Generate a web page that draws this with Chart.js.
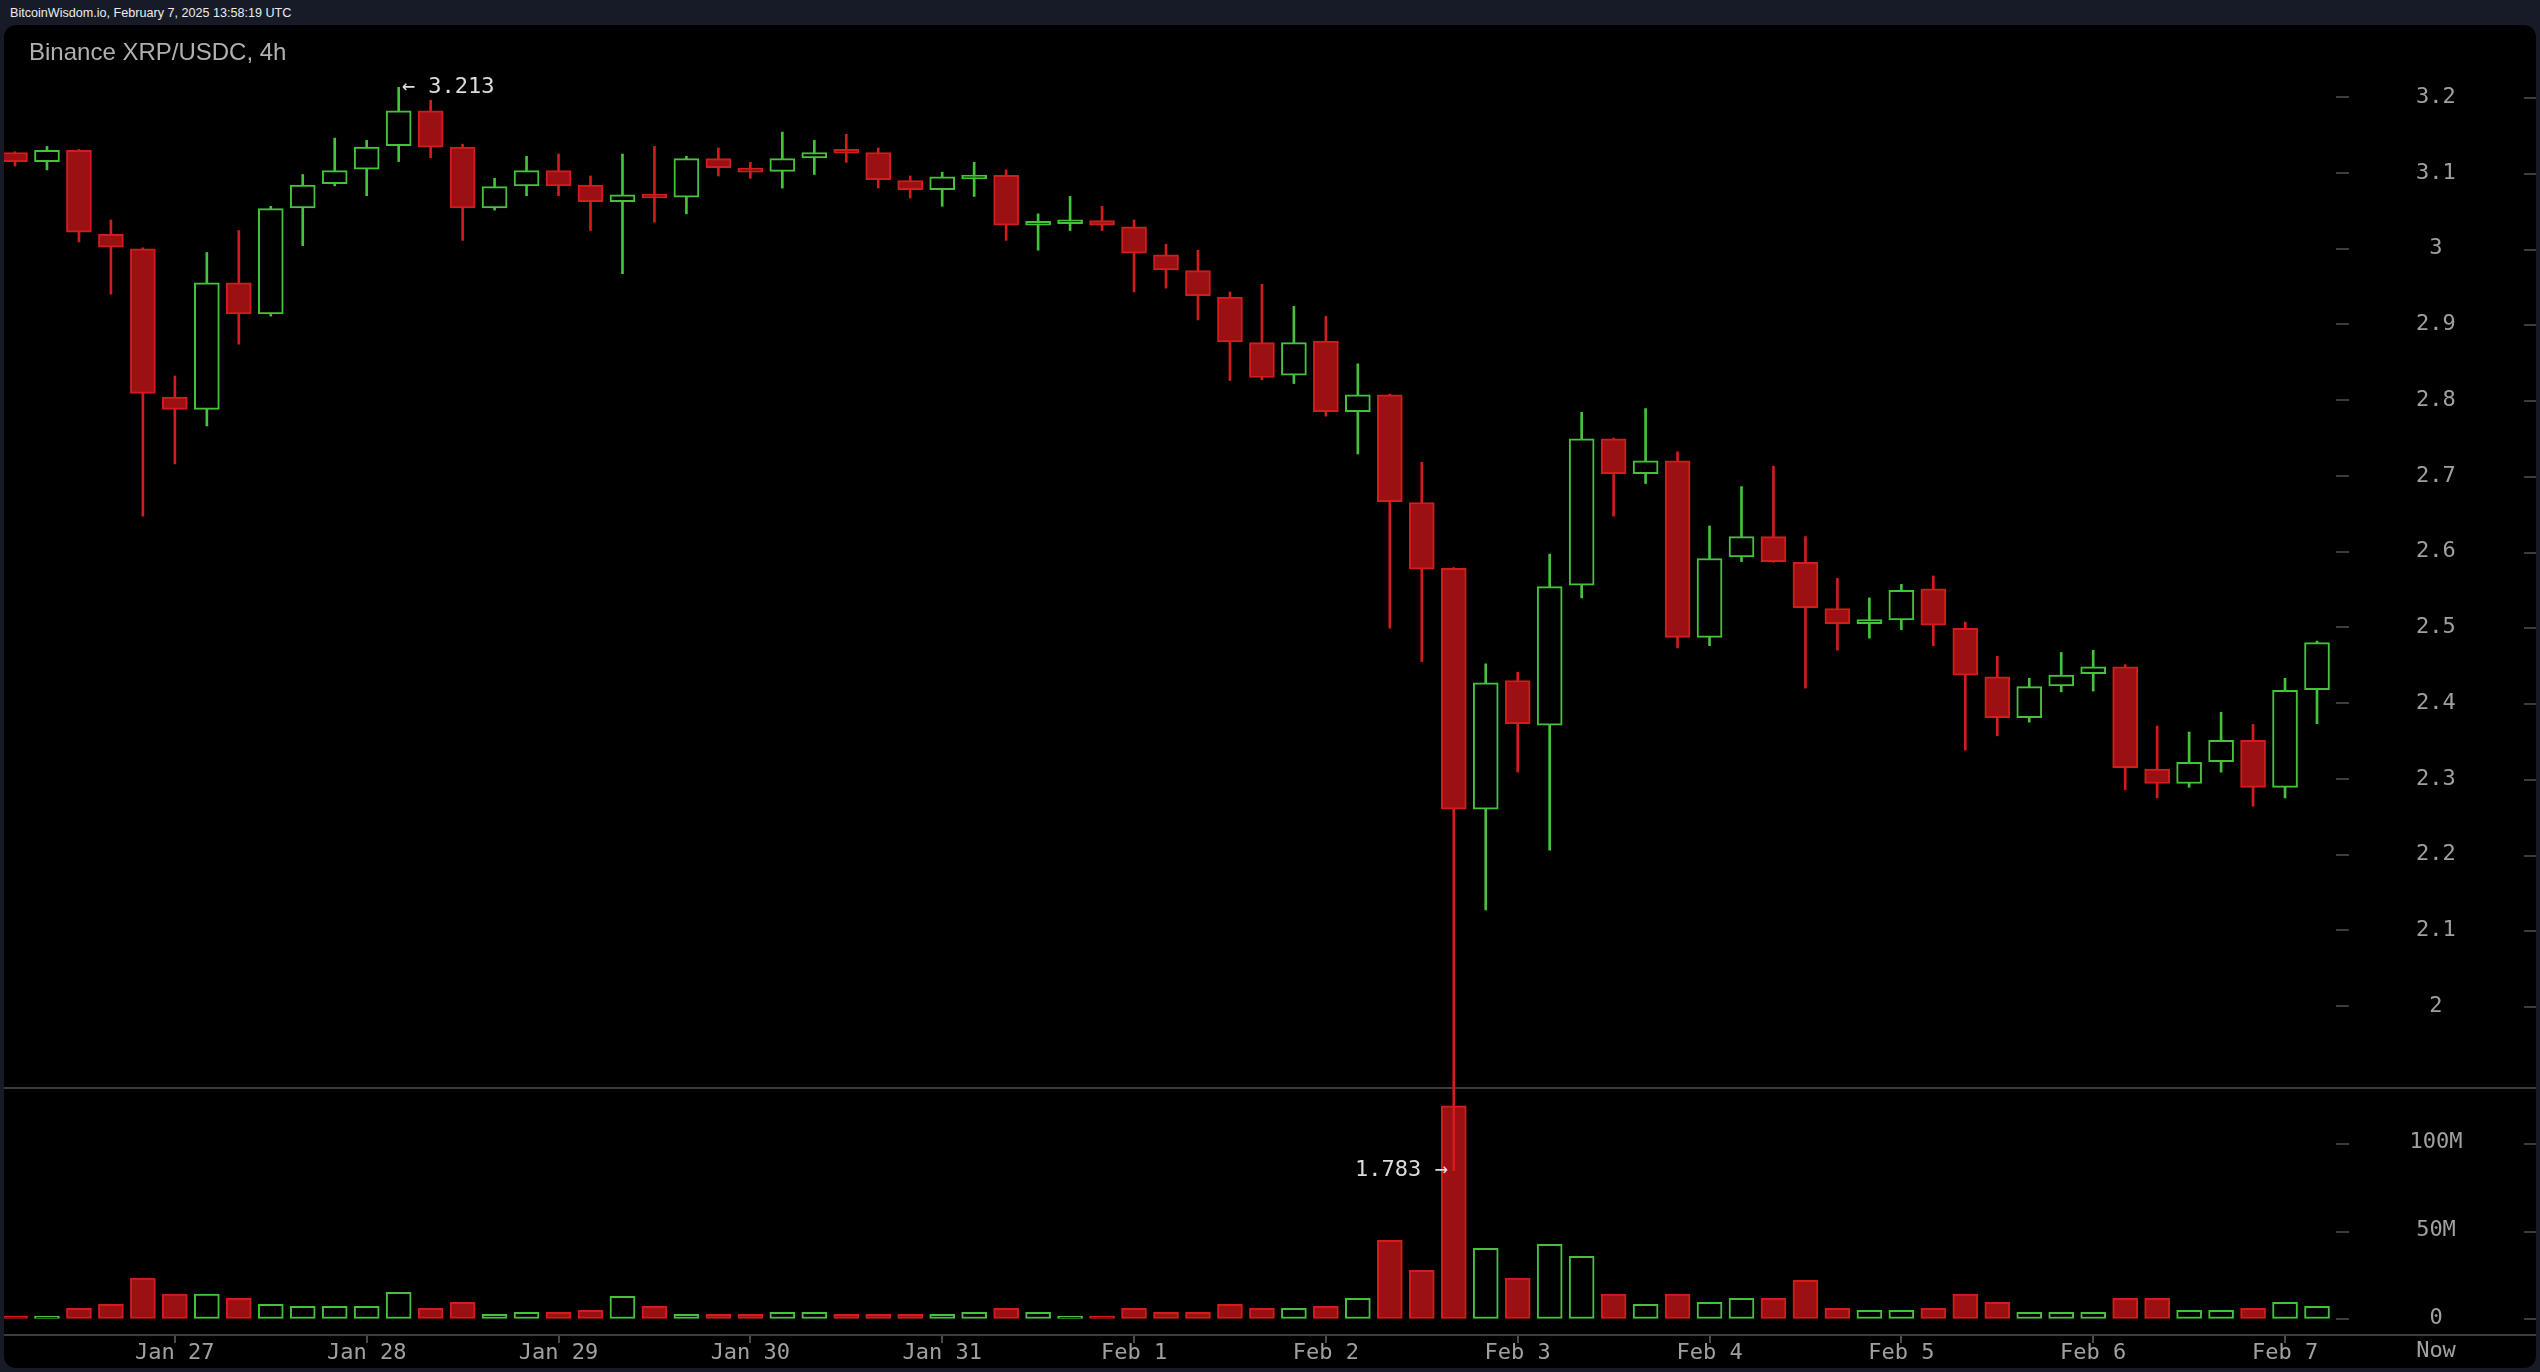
<!DOCTYPE html>
<html>
<head>
<meta charset="utf-8">
<title>Binance XRP/USDC, 4h</title>
<script src="https://cdn.jsdelivr.net/npm/chart.js@4.4.1/dist/chart.umd.min.js"></script>
<style>
  html, body { margin: 0; padding: 0; background: #161b27; }
  #wrap { position: relative; width: 2540px; height: 1372px; overflow: hidden; }
  #panel { position: absolute; left: 4px; top: 25px; width: 2532px; height: 1343px; background: #000; border-radius: 12px; }
  #stamp { position: absolute; left: 10px; top: 7px; font: 12.6px "Liberation Sans", Arial, sans-serif; line-height: 1; color: #ececec; }
  #title { position: absolute; left: 29px; top: 40px; font: 24px "Liberation Sans", Arial, sans-serif; line-height: 1; color: #b0b0b0; }
  canvas { position: absolute; left: 0; top: 0; }
</style>
</head>
<body>
<div id="wrap">
  <div id="panel"></div>
  <div id="stamp">BitcoinWisdom.io, February 7, 2025 13:58:19 UTC</div>
  <canvas id="chart" width="2540" height="1372"></canvas>
  <div id="title">Binance XRP/USDC, 4h</div>
</div>
<script>
// 4h candles, Jan 26 04:00 .. Feb 7 04:00
const opens = [3.127, 3.115, 3.130, 3.019, 3.000, 2.804, 2.788, 2.955, 2.914, 3.054, 3.086, 3.105, 3.136, 3.182, 3.134, 3.054, 3.083, 3.103, 3.084, 3.062,
  3.069, 3.068, 3.119, 3.106, 3.102, 3.120, 3.127, 3.127, 3.090, 3.078, 3.092, 3.097, 3.031, 3.033, 3.037, 3.029, 2.992, 2.971, 2.936, 2.876,
  2.833, 2.878, 2.785, 2.807, 2.665, 2.578, 2.260, 2.430, 2.371, 2.556, 2.749, 2.703, 2.720, 2.487, 2.593, 2.620, 2.586, 2.525, 2.505, 2.510,
  2.551, 2.499, 2.435, 2.381, 2.423, 2.439, 2.448, 2.313, 2.294, 2.323, 2.351, 2.289, 2.418];
const highs = [3.128, 3.135, 3.131, 3.038, 3.001, 2.832, 2.995, 3.024, 3.056, 3.098, 3.146, 3.143, 3.213, 3.196, 3.138, 3.093, 3.122, 3.125, 3.096, 3.125,
  3.135, 3.122, 3.133, 3.114, 3.154, 3.143, 3.151, 3.133, 3.096, 3.101, 3.114, 3.104, 3.046, 3.069, 3.056, 3.038, 3.006, 2.998, 2.943, 2.953,
  2.924, 2.911, 2.848, 2.808, 2.718, 2.579, 2.452, 2.441, 2.597, 2.784, 2.750, 2.789, 2.732, 2.634, 2.686, 2.713, 2.620, 2.565, 2.539, 2.557,
  2.568, 2.507, 2.462, 2.433, 2.467, 2.470, 2.451, 2.370, 2.362, 2.388, 2.372, 2.433, 2.482];
const lows = [3.109, 3.104, 3.009, 2.940, 2.647, 2.716, 2.766, 2.874, 2.911, 3.004, 3.083, 3.070, 3.115, 3.120, 3.011, 3.051, 3.070, 3.070, 3.024, 2.967,
  3.035, 3.046, 3.096, 3.093, 3.080, 3.098, 3.114, 3.080, 3.067, 3.056, 3.069, 3.011, 2.998, 3.024, 3.024, 2.943, 2.948, 2.906, 2.826, 2.827,
  2.822, 2.779, 2.729, 2.499, 2.455, 1.783, 2.127, 2.309, 2.206, 2.539, 2.647, 2.690, 2.473, 2.476, 2.587, 2.586, 2.420, 2.470, 2.486, 2.497,
  2.476, 2.338, 2.357, 2.375, 2.415, 2.416, 2.286, 2.275, 2.289, 2.309, 2.264, 2.275, 2.373];
const closes = [3.115, 3.130, 3.022, 3.002, 2.809, 2.788, 2.955, 2.914, 3.053, 3.084, 3.103, 3.134, 3.182, 3.134, 3.054, 3.082, 3.103, 3.083, 3.062, 3.071,
  3.067, 3.119, 3.107, 3.101, 3.119, 3.127, 3.126, 3.091, 3.078, 3.095, 3.093, 3.031, 3.034, 3.037, 3.031, 2.994, 2.972, 2.938, 2.877, 2.830,
  2.876, 2.785, 2.807, 2.666, 2.577, 2.260, 2.427, 2.373, 2.554, 2.749, 2.703, 2.720, 2.487, 2.591, 2.620, 2.587, 2.526, 2.505, 2.510, 2.549,
  2.503, 2.437, 2.381, 2.422, 2.437, 2.448, 2.315, 2.294, 2.322, 2.351, 2.289, 2.417, 2.480];
// volume, millions
const volumes = [1.4, 1.4, 5.8, 8.1, 22.9, 13.8, 13.8, 11.5, 8.1, 6.9, 6.9, 6.9, 14.9, 5.8, 9.2, 2.4, 3.5, 3.5, 4.7, 12.6,
  6.9, 2.4, 2.4, 2.4, 3.5, 3.5, 2.4, 2.4, 2.4, 2.4, 3.5, 5.8, 3.5, 1.4, 1.4, 5.8, 3.5, 3.5, 8.1, 5.8,
  5.8, 6.9, 11.5, 44.5, 27.4, 120.9, 39.9, 22.9, 42.2, 35.4, 13.8, 8.1, 13.8, 9.2, 11.5, 11.5, 21.7, 5.8, 4.7, 4.7,
  5.8, 13.8, 9.2, 3.5, 3.5, 3.5, 11.5, 11.5, 4.7, 4.7, 5.8, 9.2, 6.9];

const dayIndex = [5, 11, 17, 23, 29, 35, 41, 47, 53, 59, 65, 71];
const dayLabels = ["Jan 27", "Jan 28", "Jan 29", "Jan 30", "Jan 31", "Feb 1", "Feb 2", "Feb 3", "Feb 4", "Feb 5", "Feb 6", "Feb 7"];
const priceTicks = [2.0, 2.1, 2.2, 2.3, 2.4, 2.5, 2.6, 2.7, 2.8, 2.9, 3.0, 3.1, 3.2];
const priceLabels = ["2", "2.1", "2.2", "2.3", "2.4", "2.5", "2.6", "2.7", "2.8", "2.9", "3", "3.1", "3.2"];
const volTicks = [0, 50, 100];
const volLabels = ["0", "50M", "100M"];

// the two panes share one plot area; each axis range is set so its data
// lands in its own pane
const PRICE_MIN = 1.566, PRICE_MAX = 3.294;
const VOL_MIN = -9.4, VOL_MAX = 735;
const X_MIN = -0.344, X_MAX = 72.594;
const PANE_SPLIT = 1088;

const UP = "#46c23c";
const DOWN_LINE = "#d31c1c";
const DOWN_FILL = "#9a1013";
const GRID = "#3c3c3c";
const LABEL = "#a0a0a0";
const MONO = "DejaVu Sans Mono";

const isUp = opens.map((o, i) => closes[i] >= o);
const lineColors = isUp.map(u => u ? UP : DOWN_LINE);
const fillColors = isUp.map(u => u ? "#000000" : DOWN_FILL);

// keep the plot area where the panel wants it, not where the labels push it
const noPadding = s => { s.paddingLeft = 0; s.paddingRight = 0; s.paddingTop = 0; s.paddingBottom = 0; };

const panes = {
  id: "panes",
  beforeDatasetsDraw(chart) {
    const { ctx, chartArea, scales } = chart;
    const y = scales.y, yv = scales.yv;
    ctx.save();
    ctx.strokeStyle = GRID;
    ctx.lineWidth = 2;
    ctx.beginPath();
    ctx.moveTo(4, PANE_SPLIT); ctx.lineTo(2536, PANE_SPLIT);
    ctx.moveTo(4, chartArea.bottom); ctx.lineTo(2536, chartArea.bottom);
    ctx.stroke();

    // short dashes at the right edge of the panel
    ctx.beginPath();
    priceTicks.forEach(v => {
      const py = Math.round(y.getPixelForValue(v)) + 1;
      ctx.moveTo(2524, py); ctx.lineTo(2536, py);
    });
    volTicks.forEach(v => {
      const py = Math.round(yv.getPixelForValue(v)) + 1;
      ctx.moveTo(y.left, py); ctx.lineTo(y.left + 13, py);
      ctx.moveTo(2524, py); ctx.lineTo(2536, py);
    });
    ctx.stroke();

    ctx.font = "22px " + MONO;
    ctx.fillStyle = LABEL;
    ctx.textAlign = "center";
    ctx.textBaseline = "middle";
    volTicks.forEach((v, i) => {
      ctx.fillText(volLabels[i], y.left + 100, yv.getPixelForValue(v));
    });
    ctx.fillText("Now", y.left + 100, chartArea.bottom + 16);
    ctx.restore();
  },
  afterDatasetsDraw(chart) {
    const { ctx, scales: { x, y } } = chart;
    const hi = highs.indexOf(Math.max(...highs));
    const lo = lows.indexOf(Math.min(...lows));
    ctx.save();
    ctx.font = "22px " + MONO;
    ctx.fillStyle = "#dcdcdc";
    ctx.textBaseline = "middle";
    ctx.textAlign = "left";
    ctx.fillText("\u2190 " + highs[hi].toFixed(3), x.getPixelForValue(hi) + 3, y.getPixelForValue(highs[hi]));
    ctx.textAlign = "right";
    ctx.fillText(lows[lo].toFixed(3) + " \u2192", x.getPixelForValue(lo) - 6, y.getPixelForValue(lows[lo]));
    ctx.restore();
  }
};

new Chart(document.getElementById("chart"), {
  type: "bar",
  data: {
    datasets: [
      {
        label: "body",
        yAxisID: "y",
        data: opens.map((o, i) => ({ x: i, y: [o, closes[i]] })),
        backgroundColor: fillColors,
        borderColor: lineColors,
        borderWidth: 2,
        borderSkipped: false,
        barThickness: 25,
        minBarLength: 4,
        grouped: false,
        order: 0
      },
      {
        label: "wick",
        yAxisID: "y",
        data: lows.map((l, i) => ({ x: i, y: [l, highs[i]] })),
        backgroundColor: lineColors,
        borderWidth: 0,
        barThickness: 2,
        grouped: false,
        clip: false,
        order: 1
      },
      {
        label: "volume",
        yAxisID: "yv",
        data: volumes.map((v, i) => ({ x: i, y: v })),
        backgroundColor: fillColors,
        borderColor: lineColors,
        borderWidth: 2,
        borderSkipped: false,
        barThickness: 25,
        grouped: false,
        order: 2
      }
    ]
  },
  options: {
    responsive: false,
    devicePixelRatio: 1,
    animation: false,
    layout: { autoPadding: false, padding: { left: 4, right: 4, top: 26, bottom: 7 } },
    plugins: { legend: { display: false }, tooltip: { enabled: false } },
    scales: {
      x: {
        type: "linear",
        offset: false,
        min: X_MIN,
        max: X_MAX,
        afterBuildTicks: s => { s.ticks = dayIndex.map(v => ({ value: v })); },
        afterFit: s => { s.height = 30; noPadding(s); },
        grid: { drawOnChartArea: false, drawTicks: true, tickLength: 8, color: "#4a4a4a", lineWidth: 2, offset: false },
        border: { display: false },
        ticks: {
          autoSkip: false,
          maxRotation: 0,
          padding: -3,
          color: LABEL,
          font: { family: MONO, size: 22 },
          callback: v => dayLabels[dayIndex.indexOf(v)]
        }
      },
      y: {
        type: "linear",
        position: "right",
        min: PRICE_MIN,
        max: PRICE_MAX,
        afterBuildTicks: s => { s.ticks = priceTicks.map(v => ({ value: v })); },
        afterFit: s => { s.width = 200; noPadding(s); },
        grid: { drawOnChartArea: false, drawTicks: true, tickLength: 13, color: GRID, lineWidth: 2 },
        border: { display: false },
        ticks: {
          crossAlign: "center",
          padding: 67,
          color: LABEL,
          font: { family: MONO, size: 22 },
          callback: v => priceLabels[priceTicks.indexOf(v)]
        }
      },
      yv: {
        type: "linear",
        display: false,
        min: VOL_MIN,
        max: VOL_MAX
      }
    }
  },
  plugins: [panes]
});
</script>
</body>
</html>
